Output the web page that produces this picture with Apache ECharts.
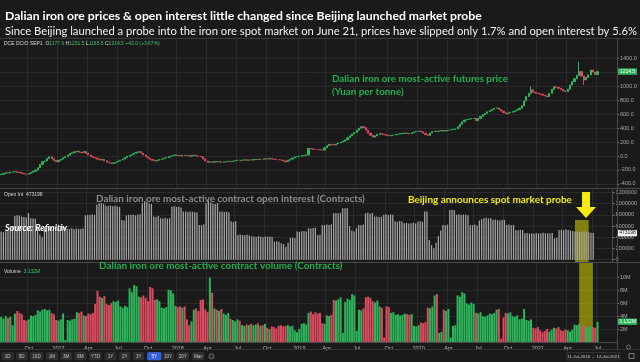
<!DOCTYPE html>
<html><head><meta charset="utf-8">
<script src="https://cdn.jsdelivr.net/npm/echarts@6/dist/echarts.min.js"></script>
<style>html,body{margin:0;padding:0;background:#1a1a1a;}#c{width:640px;height:362px;}</style>
</head><body><div id="c"></div>
<script>
// ---------- data (weekly, from 11-Jul-2016) ----------
const startDateUTC = [2016, 6, 11];
const weeksOnAxis = 269; // includes empty space on the right
const firstOpen = -270;
const closes = [
-263,-250,-238,-245,-232,-228,-226,-235,-240,-252,
-258,-263,-250,-235,-220,-201,-170,-120,-82,-70,
-35,-10,-40,-65,-82,-60,-45,-25,-10,12,
35,48,62,72,55,48,64,40,15,-10,
-22,-30,-45,-58,-48,-68,-88,-98,-106,-98,
-85,-72,-58,-42,-22,-5,10,24,42,55,
64,42,15,-10,-30,-48,-62,-72,-60,-50,
-42,-30,-22,-8,2,10,14,6,2,12,
8,4,-2,6,12,2,-5,-12,-42,-72,
-91,-84,-88,-80,-86,-82,-90,-84,-82,-76,
-80,-72,-66,-60,-64,-58,-55,-60,-56,-58,
-52,-48,-50,-44,-46,-40,-43,-38,-45,-48,
-52,-56,-58,-70,-82,-62,-45,-28,-12,-8,
-2,6,10,14,110,104,98,94,90,88,
86,118,148,168,162,158,174,188,202,214,
232,262,290,316,338,372,400,422,408,372,
330,300,272,290,312,326,314,304,298,292,
298,302,310,316,322,326,332,324,318,334,
346,354,360,348,328,308,296,332,352,360,
354,360,366,358,368,374,380,384,390,420,
458,492,518,526,532,538,542,508,540,570,
594,614,636,654,672,686,692,668,646,624,
608,620,630,640,652,668,688,722,792,856,
902,952,918,906,900,888,876,864,854,902,
960,998,988,974,958,940,926,962,1020,1070,
1112,1160,1215,1150,1094,1130,1168,1238,1208,1172,
1214.5];
const spikeWeeks = [231, 252, 254];
const spikeHighs = [1000, 1357, 1150];
const spikeLows  = [900, 1150, 1025];
const openInterest = [ // contracts
500e3,490e3,505e3,520e3,589e3,600e3,780e3,790e3,786e3,770e3,
760e3,750e3,829e3,740e3,735e3,730e3,560e3,450e3,400e3,580e3,
575e3,590e3,580e3,570e3,585e3,560e3,575e3,590e3,580e3,550e3,
545e3,560e3,540e3,555e3,550e3,545e3,560e3,790e3,800e3,798e3,
810e3,795e3,977e3,1007e3,1010e3,995e3,960e3,955e3,965e3,950e3,
960e3,945e3,940e3,709e3,700e3,790e3,800e3,798e3,805e3,790e3,
800e3,810e3,1007e3,1040e3,1030e3,1000e3,990e3,770e3,760e3,780e3,
740e3,735e3,745e3,730e3,740e3,946e3,950e3,940e3,945e3,930e3,
857e3,860e3,850e3,860e3,855e3,845e3,840e3,620e3,615e3,630e3,
1007e3,1048e3,1020e3,1000e3,990e3,1005e3,857e3,860e3,850e3,855e3,
845e3,679e3,670e3,685e3,441e3,450e3,440e3,435e3,445e3,430e3,
411e3,415e3,405e3,420e3,410e3,400e3,415e3,408e3,412e3,405e3,
321e3,330e3,320e3,293e3,280e3,232e3,300e3,387e3,390e3,380e3,
500e3,495e3,505e3,510e3,500e3,560e3,555e3,565e3,570e3,441e3,
445e3,620e3,615e3,625e3,620e3,630e3,829e3,830e3,825e3,835e3,
918e3,915e3,920e3,600e3,520e3,500e3,560e3,620e3,615e3,625e3,
829e3,835e3,820e3,830e3,768e3,770e3,760e3,765e3,800e3,810e3,
795e3,805e3,800e3,680e3,675e3,690e3,680e3,650e3,655e3,645e3,
650e3,660e3,645e3,680e3,685e3,675e3,857e3,860e3,350e3,260e3,
203e3,300e3,420e3,520e3,620e3,615e3,625e3,887e3,890e3,880e3,
800e3,810e3,795e3,805e3,800e3,790e3,620e3,615e3,625e3,610e3,
700e3,720e3,739e3,745e3,735e3,740e3,710e3,715e3,705e3,700e3,
712e3,708e3,620e3,625e3,615e3,620e3,530e3,525e3,535e3,530e3,
470e3,475e3,465e3,470e3,460e3,475e3,470e3,465e3,480e3,470e3,
470e3,465e3,475e3,380e3,390e3,530e3,535e3,525e3,540e3,530e3,
520e3,510e3,500e3,505e3,495e3,500e3,505e3,498e3,490e3,480e3,
473198];
const volumeM = [ // millions of contracts
3.9,3.6,4.0,3.7,3.9,2.6,4.4,4.8,4.5,4.3,
3.4,3.3,3.5,4.1,4.0,4.2,4.9,4.7,5.0,5.1,
4.9,5.0,4.5,4.3,3.4,3.3,3.5,4.4,0.3,3.4,
3.3,3.5,3.6,4.6,4.5,4.7,4.1,4.0,4.4,4.3,
4.5,5.9,7.9,7.0,6.8,7.1,5.9,5.7,6.0,6.3,
6.2,6.4,5.5,5.3,5.6,5.4,8.3,7.7,8.8,8.6,
7.0,6.9,7.2,6.8,6.3,8.5,8.3,6.5,6.6,6.3,
5.3,5.2,5.4,8.1,8.0,7.5,5.6,5.4,5.5,5.3,
5.5,3.5,2.6,3.2,5.0,5.2,4.8,6.5,6.6,5.0,
4.6,9.95,7.6,5.2,5.0,4.8,5.1,4.4,4.2,4.5,
3.6,3.4,3.2,3.5,3.3,2.6,2.5,2.7,2.6,2.8,
2.6,2.7,2.9,2.5,2.6,2.8,2.2,2.0,2.4,2.3,
2.1,2.5,2.6,2.4,2.5,2.6,2.4,2.5,1.8,1.5,
2.0,2.8,2.9,2.7,4.5,4.7,4.3,4.6,4.4,4.5,
2.9,2.8,4.1,4.0,4.2,6.5,6.4,6.6,6.9,1.4,
6.2,6.7,6.5,7.4,7.2,1.7,5.0,4.9,5.2,6.9,
7.0,6.8,6.3,6.1,6.4,5.5,5.3,0.7,5.5,5.4,
4.5,4.6,4.2,4.3,4.1,4.2,4.4,4.3,4.2,4.3,
2.5,2.4,2.6,3.0,2.9,3.1,5.3,5.2,5.5,7.2,
7.4,1.4,1.6,5.0,4.8,5.1,0.7,2.5,2.6,7.2,
7.0,7.7,7.5,6.0,5.8,6.1,5.9,4.5,4.4,4.6,
4.0,3.9,4.1,4.4,4.3,4.5,5.0,5.1,0.5,3.8,
4.5,4.4,4.6,4.0,3.9,4.1,3.5,3.6,5.1,3.4,
3.3,3.5,2.2,2.1,2.3,1.8,1.5,1.7,2.0,1.6,
1.9,2.2,2.1,2.3,1.8,1.7,1.9,1.8,1.6,1.9,
2.7,2.6,2.8,2.5,2.6,2.4,2.2,2.5,2.3,2.2,
3.13];
const priceTicks = [-400,-200,0,200,400,600,800,1000,1200,1400];
const oiTicks = [0,200000,400000,600000,800000,1000000,1200000];
const volTicks = [2,4,6,8,10];
const probeBand = [252, 258];
const lastInfo = {o:'1177.0', h:'1231.5', l:'1165.5', c:'1214.5', chg:'+43.0 (+3.67%)'};
const tagPrice = 1214.5, tagOI = 473198, tagVol = 3.132;

// ---------- texts ----------
const TITLE = 'Dalian iron ore prices & open interest little changed since Beijing launched market probe';
const SUBTITLE = 'Since Beijing launched a probe into the iron ore spot market on June 21, prices have slipped only 1.7% and open interest by 5.6%';
const PRICE_LBL1 = 'Dalian iron ore most-active futures price';
const PRICE_LBL2 = '(Yuan per tonne)';
const OI_LBL = 'Dalian iron ore most-active contract open interest (Contracts)';
const VOL_LBL = 'Dalian iron ore most-active contract volume (Contracts)';
const PROBE_LBL = 'Beijing announces spot market probe';
const SOURCE_LBL = 'Source: Refinitiv';
const BUTTONS = ['1D','5D','10D','1M','3M','6M','YTD','1Y','2Y','3Y','5Y','10Y','20Y','Max'];

// ---------- helpers ----------
const mctx = document.createElement('canvas').getContext('2d');
function fitSize(text, font, target){ mctx.font = font.replace('{s}','100px'); return +(100*target/mctx.measureText(text).width).toFixed(2); }

const UP = '#2cb55a', DOWN = '#dc4a60';
const MON = ['Jan','Feb','Mar','Apr','May','Jun','Jul','Aug','Sep','Oct','Nov','Dec'];
const d0 = Date.UTC(startDateUTC[0], startDateUTC[1], startDateUTC[2]);
const dates = [];
for (let i=0;i<weeksOnAxis;i++) dates.push(new Date(d0 + i*7*86400000));
const cats = dates.map(d=>d.toISOString().slice(0,10));
function isQ(i){ if(i===0) return false; const m=dates[i].getUTCMonth(); return m!==dates[i-1].getUTCMonth() && m%3===0; }
function qLabel(i){ const m=dates[i].getUTCMonth(); return m===0 ? String(dates[i].getUTCFullYear()) : MON[m]; }

const candle = [], volData = [];
for (let i=0;i<closes.length;i++){
  const o = i===0 ? firstOpen : closes[i-1], c = closes[i];
  let lo = Math.min(o,c), hi = Math.max(o,c);
  const k = spikeWeeks.indexOf(i);
  if (k>=0){ hi = Math.max(hi, spikeHighs[k]); lo = Math.min(lo, spikeLows[k]); }
  candle.push([o,c,lo,hi]);
  volData.push({value: volumeM[i], itemStyle:{color: c>=o ? UP : DOWN}});
}

const axisFont = {fontSize:5.5, color:'#a8a8a8', fontFamily:'Liberation Sans'};
const GRIDC = '#2a2a2a';
function xAx(gi, labels){
  return {type:'category', gridIndex:gi, data:cats, boundaryGap:true,
    axisLine:{show:labels, lineStyle:{color:'#4a4a4a'}}, axisTick:{show:false},
    axisLabel:{show:labels, interval:(i)=>isQ(i), formatter:(v,i)=>qLabel(i), margin:3, ...axisFont, color:'#b8b8b8'},
    splitLine:{show:true, interval:(i)=>isQ(i), lineStyle:{color:GRIDC, width:1}}};
}
function yAx(gi, min, max, ticks, fmt){
  return {type:'value', gridIndex:gi, position:'right', min, max, scale:false,
    axisLine:{show:true, lineStyle:{color:'#4a4a4a'}},
    axisTick:{show:true, length:2, customValues:ticks, lineStyle:{color:'#777'}},
    axisLabel:{customValues:ticks, formatter:fmt, margin:3, ...axisFont},
    splitLine:{show:true, lineStyle:{color:GRIDC}}};
}

const chart = echarts.init(document.getElementById('c'), null, {renderer:'canvas', width:640, height:362});
const option = {
  backgroundColor:'#1a1a1a', animation:false,
  grid:[
    {left:0, right:23, top:40, height:148},
    {left:0, right:23, top:190, height:72},
    {left:0, right:23, top:263, height:79}
  ],
  xAxis:[xAx(0,false), xAx(1,false), xAx(2,true)],
  yAxis:[
    yAx(0, -460, 1669, priceTicks, v=>v.toFixed(1)),
    yAx(1, -40950, 1240900, oiTicks, v=>String(v)),
    yAx(2, 0, 12.21, volTicks, v=>v+'M')
  ],
  series:[
    {type:'candlestick', xAxisIndex:0, yAxisIndex:0, data:candle, barWidth:'72%',
     itemStyle:{color:UP, color0:DOWN, borderColor:UP, borderColor0:DOWN, borderWidth:1}},
    {type:'bar', xAxisIndex:1, yAxisIndex:1, data:openInterest, barWidth:'55%', itemStyle:{color:'#a4a4a4'}},
    {type:'bar', xAxisIndex:2, yAxisIndex:2, data:volData, barWidth:'88%'},
    {type:'line', xAxisIndex:1, yAxisIndex:1, data:[], z:10, silent:true,
     markArea:{silent:true, itemStyle:{color:'rgba(232,230,0,0.5)'},
       data:[[{xAxis:probeBand[0], yAxis:707000},{xAxis:probeBand[1], yAxis:-40950}]]}},
    {type:'line', xAxisIndex:2, yAxisIndex:2, data:[], z:10, silent:true,
     markArea:{silent:true, itemStyle:{color:'rgba(232,230,0,0.5)'},
       data:[[{xAxis:probeBand[0], yAxis:0},{xAxis:probeBand[1], yAxis:12.21}]]}}
  ]
};
chart.setOption(option);

// ---------- annotations & chrome ----------
const g = [];
const LATO_B = 'bold {s} Lato', LATO = '{s} Lato';
function txt(text, x, y, fill, font, size, extra){
  g.push({type:'text', z:100, style:Object.assign({text, x, y, fill, font: font.replace('{s}', size+'px'), textVerticalAlign:'middle', verticalAlign:'middle'}, extra||{})});
}
txt(TITLE, 5, 16, '#ffffff', LATO_B, fitSize(TITLE, LATO_B, 477));
txt(SUBTITLE, 5, 31, '#f2f2f2', LATO, fitSize(SUBTITLE, LATO, 632));
// separators
function line(x1,y1,x2,y2,c){ g.push({type:'line', z:50, shape:{x1,y1,x2,y2}, style:{stroke:c, lineWidth:1}}); }
line(0,38.5,640,38.5,'#3c3c3c');
line(0,188.5,640,188.5,'#4a4a4a');
line(0,262.5,640,262.5,'#4a4a4a');
line(0,349.5,640,349.5,'#333');
// info lines
g.push({type:'text', z:100, style:{x:4, y:44, verticalAlign:'middle', textVerticalAlign:'middle', font:'5px Liberation Sans',
  text:'{w|DCE DCIO SEP1}  {w|O}{g|'+lastInfo.o+'} {w|H}{g|'+lastInfo.h+'} {w|L}{g|'+lastInfo.l+'} {w|C}{g|'+lastInfo.c+'} {g|'+lastInfo.chg+'}',
  rich:{w:{fill:'#d8d8d8', color:'#d8d8d8', fontSize:5}, g:{fill:'#3fc06a', color:'#3fc06a', fontSize:5}}}});
g.push({type:'text', z:100, style:{x:4, y:194.5, verticalAlign:'middle', textVerticalAlign:'middle', font:'5px Liberation Sans',
  text:'{w|Open Int}  {w|'+tagOI+'}', rich:{w:{fill:'#d8d8d8', color:'#d8d8d8', fontSize:5}}}});
g.push({type:'text', z:100, style:{x:4, y:271.5, verticalAlign:'middle', textVerticalAlign:'middle', font:'5px Liberation Sans',
  text:'{w|Volume}  {g|'+tagVol+'M}', rich:{w:{fill:'#d8d8d8', color:'#d8d8d8', fontSize:5}, g:{fill:'#3fc06a', color:'#3fc06a', fontSize:5}}}});
// annotation labels
const s1 = fitSize(PRICE_LBL1, LATO_B, 176);
txt(PRICE_LBL1, 332, 79, '#23b04e', LATO_B, s1);
txt(PRICE_LBL2, 332, 92, '#23b04e', LATO_B, s1);
txt(OI_LBL, 96, 198.5, '#8e8e8e', LATO_B, fitSize(OI_LBL, LATO_B, 269));
txt(VOL_LBL, 99, 266, '#23b04e', LATO_B, fitSize(VOL_LBL, LATO_B, 244));
txt(PROBE_LBL, 408, 200, '#f2ea1c', LATO_B, fitSize(PROBE_LBL, LATO_B, 164));
txt(SOURCE_LBL, 5, 228, '#ffffff', 'italic bold {s} Lato', fitSize(SOURCE_LBL, 'italic bold {s} Lato', 62));
// arrow
g.push({type:'polygon', z:60, shape:{points:[[582,192],[590,192],[590,207],[596,207],[586,218],[576,207],[582,207]]}, style:{fill:'#f4ea10'}});
// value tags on right axis
function tag(y, label, bg, fg){
  g.push({type:'rect', z:90, shape:{x:618, y:y-3.2, width:19, height:6.4}, style:{fill:bg}});
  g.push({type:'text', z:91, style:{text:label, x:627.5, y:y, fill:fg, font:'5px Liberation Sans', align:'center', textAlign:'center', verticalAlign:'middle', textVerticalAlign:'middle'}});
}
tag(chart.convertToPixel({yAxisIndex:0}, tagPrice), tagPrice.toFixed(1), '#2cb55a', '#ffffff');
tag(chart.convertToPixel({yAxisIndex:1}, tagOI), String(tagOI), '#efefef', '#222');
tag(chart.convertToPixel({yAxisIndex:2}, tagVol), tagVol.toFixed(3)+'M', '#2cb55a', '#ffffff');
// toolbar
const bx = [2,16.5,30.5,46.5,61,75,89.5,105,119.5,133.5,147.5,162.5,177,192.5];
const bw = [11.5,10.5,12,11,10.5,11,11.5,11,10.5,10.5,13.5,11,11.5,11.5];
BUTTONS.forEach((b,i)=>{
  const sel = b==='5Y';
  g.push({type:'rect', z:80, shape:{x:bx[i], y:352.5, width:bw[i], height:7.5, r:1}, style:{fill: sel?'#2f5fe0':'#2c2c2c', stroke: sel?'#4a78ff':'#3a3a3a', lineWidth:0.5}});
  g.push({type:'text', z:81, style:{text:b, x:bx[i]+bw[i]/2, y:356.3, fill: sel?'#fff':'#c8c8c8', font:'4.6px Liberation Sans', align:'center', textAlign:'center', verticalAlign:'middle', textVerticalAlign:'middle'}});
});
g.push({type:'circle', z:81, shape:{cx:211.5, cy:356.3, r:2.6}, style:{fill:'#2c2c2c', stroke:'#999', lineWidth:0.6}});
g.push({type:'rect', z:80, shape:{x:567, y:352.5, width:53, height:7.5}, style:{fill:'#1e1e1e', stroke:'#444', lineWidth:0.5}});
g.push({type:'text', z:81, style:{text:'11-Jul-2016  -  12-Jul-2021', x:593.5, y:356.3, fill:'#cfcfcf', font:'4.4px Liberation Sans', align:'center', textAlign:'center', verticalAlign:'middle', textVerticalAlign:'middle'}});
g.push({type:'rect', z:81, shape:{x:629, y:353.5, width:5, height:5}, style:{fill:'none', stroke:'#bbb', lineWidth:0.6}});
g.push({type:'circle', z:81, shape:{cx:628.5, cy:347, r:2}, style:{fill:'none', stroke:'#999', lineWidth:0.6}});
line(617.5,38,617.5,350,'#4a4a4a');
chart.setOption({graphic:{elements:g}});
</script>
</body></html>
